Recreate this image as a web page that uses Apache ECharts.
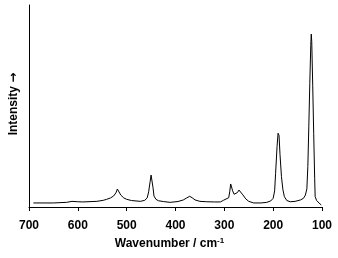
<!DOCTYPE html>
<html>
<head>
<meta charset="utf-8">
<script src="https://cdn.jsdelivr.net/npm/echarts@6/dist/echarts.min.js"></script>
<style>
  html, body { margin: 0; padding: 0; background: #fff; }
  #chart { width: 338px; height: 258px; }
</style>
</head>
<body>
<div id="chart"></div>
<script>
// wavenumbers (cm-1) and intensities
var wavenumbers = [691, 650, 623, 612, 608, 600, 590, 561, 548, 541, 533, 527, 522, 519, 516, 512, 506, 500, 490, 472,
  463, 458, 455, 452, 450, 448, 446, 444, 440, 435, 425, 411, 395, 384, 377, 371, 366, 360, 350, 336, 320, 308,
  302, 298, 291, 289, 287, 285, 283, 280, 277, 273, 270, 267, 262, 256, 250, 240, 225, 213, 205, 200, 197, 195,
  192, 190, 188, 186, 183, 180, 177, 172, 165, 155, 144, 138, 134, 131, 129, 127, 125, 123, 122, 121, 119, 117,
  115, 114, 111, 107, 104, 101.5];
var intensity = [2.0, 2.0, 2.3, 2.8, 3.0, 2.6, 2.5, 2.8, 3.3, 3.8, 4.5, 5.4, 7.0, 8.9, 8.0, 5.9, 4.5, 3.8, 3.2, 2.8,
  3.3, 4.5, 7.5, 12.5, 15.8, 15.2, 9.5, 5.4, 3.8, 3.1, 2.7, 2.3, 2.7, 3.5, 4.5, 5.3, 4.6, 3.5, 2.8, 2.6, 2.5, 2.5,
  3.3, 4.1, 4.6, 7.5, 11.4, 10.5, 8.0, 6.3, 5.6, 7.2, 8.4, 7.8, 6.0, 4.0, 2.8, 2.0, 2.0, 2.3, 3.0, 4.3, 8.0, 16.7,
  30.0, 36.5, 35.5, 26.0, 15.0, 8.5, 5.1, 3.2, 2.6, 2.8, 3.5, 4.3, 5.9, 9.0, 20.0, 40.0, 61.0, 80.0, 85.6, 82.0,
  60.0, 36.5, 14.0, 5.1, 3.2, 2.3, 1.5, 1.0];
var xTicks = { min: 100, max: 700, step: 100 };

var points = [];
for (var i = 0; i < wavenumbers.length; i++) {
  points.push([wavenumbers[i], intensity[i]]);
}

var font = '"Liberation Sans", Arial, sans-serif';

var myChart = echarts.init(document.getElementById('chart'));
myChart.setOption({
  animation: false,
  backgroundColor: '#fff',
  grid: { left: 29, right: 16, top: 5, bottom: 51, containLabel: false },
  xAxis: {
    type: 'value',
    inverse: true,
    min: xTicks.min,
    max: xTicks.max,
    interval: xTicks.step,
    name: '{n|Wavenumber / cm}{s|-1}',
    nameLocation: 'middle',
    nameGap: 30,
    nameTextStyle: {
      padding: [0, 12, 0, 0],
      rich: {
        n: { fontFamily: font, fontWeight: 'bold', fontSize: 12, color: '#000' },
        s: { fontFamily: font, fontWeight: 'bold', fontSize: 8, color: '#000', verticalAlign: 'top', padding: [0, 0, 6, 0] }
      }
    },
    splitLine: { show: false },
    axisLine: { onZero: false, lineStyle: { color: '#000', width: 1 } },
    axisTick: { show: true, length: 4, lineStyle: { color: '#000' } },
    axisLabel: { margin: 13, color: '#000', fontFamily: font, fontWeight: 'bold', fontSize: 12 }
  },
  yAxis: {
    type: 'value',
    min: 0,
    max: 100,
    name: '{t|Intensity }{a|→}',
    nameLocation: 'middle',
    nameGap: 9,
    nameTextStyle: {
      padding: [0, 0, 0, 4],
      rich: {
        t: { fontFamily: font, fontWeight: 'bold', fontSize: 12, color: '#000' },
        a: { fontFamily: '"DejaVu Sans", sans-serif', fontWeight: 'bold', fontSize: 12, color: '#000' }
      }
    },
    splitLine: { show: false },
    axisLine: { show: true, lineStyle: { color: '#000', width: 1 } },
    axisTick: { show: false },
    axisLabel: { show: false }
  },
  series: [{
    type: 'line',
    data: points,
    showSymbol: false,
    symbol: 'none',
    lineStyle: { color: '#000', width: 1 }
  }]
});
</script>
</body>
</html>
